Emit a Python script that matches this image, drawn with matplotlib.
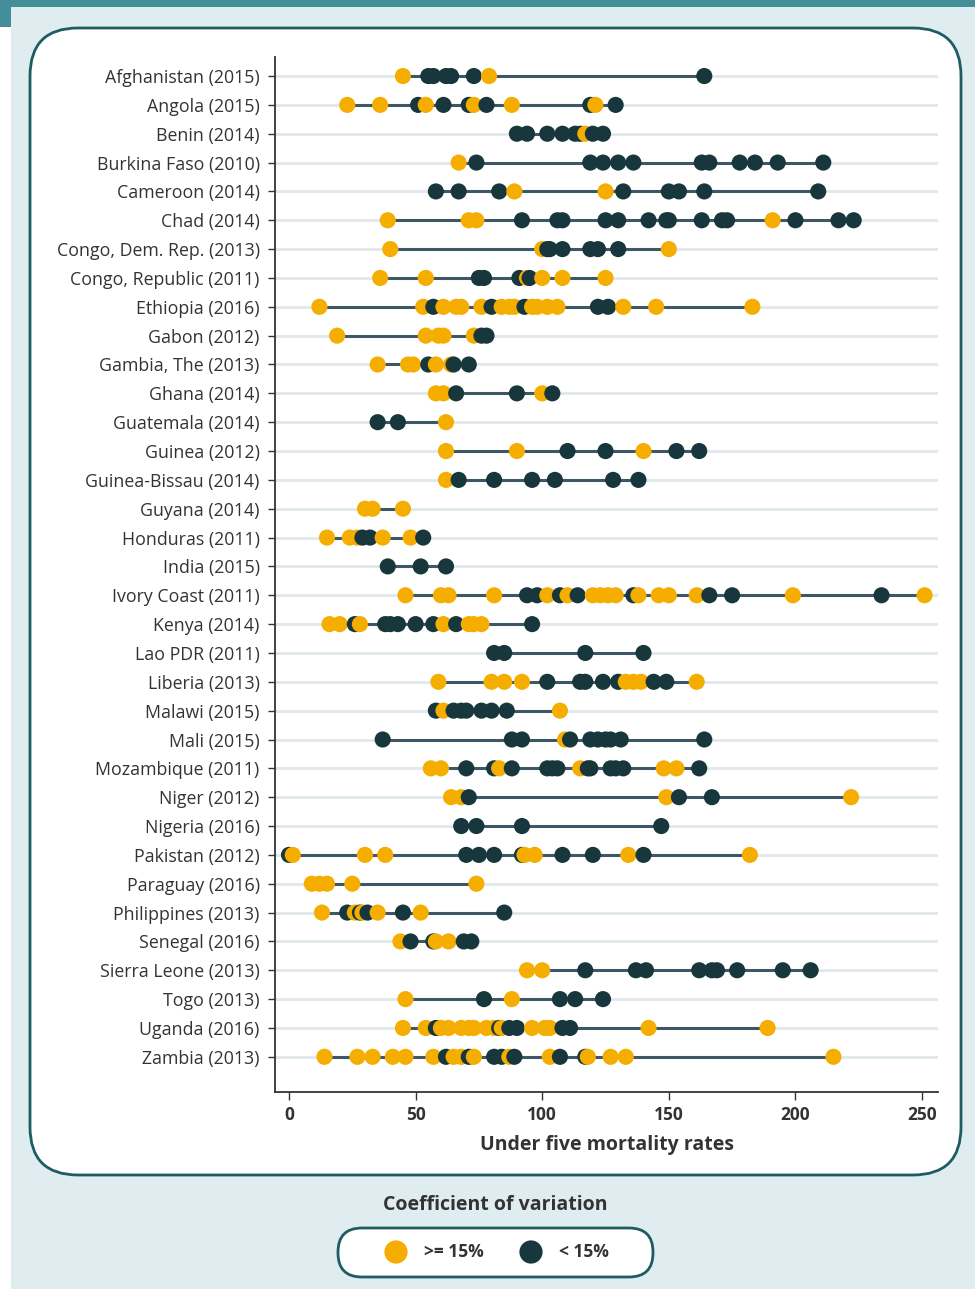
import matplotlib.pyplot as plt
from matplotlib.patches import FancyBboxPatch, Rectangle

# survey labels, top to bottom
COUNTRIES = [
    "Afghanistan (2015)", "Angola (2015)", "Benin (2014)", "Burkina Faso (2010)",
    "Cameroon (2014)", "Chad (2014)", "Congo, Dem. Rep. (2013)", "Congo, Republic (2011)",
    "Ethiopia (2016)", "Gabon (2012)", "Gambia, The (2013)", "Ghana (2014)",
    "Guatemala (2014)", "Guinea (2012)", "Guinea-Bissau (2014)", "Guyana (2014)",
    "Honduras (2011)", "India (2015)", "Ivory Coast (2011)", "Kenya (2014)",
    "Lao PDR (2011)", "Liberia (2013)", "Malawi (2015)", "Mali (2015)",
    "Mozambique (2011)", "Niger (2012)", "Nigeria (2016)", "Pakistan (2012)",
    "Paraguay (2016)", "Philippines (2013)", "Senegal (2016)", "Sierra Leone (2013)",
    "Togo (2013)", "Uganda (2016)", "Zambia (2013)",
]

# estimates with coefficient of variation >= 15%
HIGH_CV = [
    [45, 79],
    [23, 36, 54, 73, 88, 121],
    [117],
    [67],
    [89, 125],
    [39, 71, 74, 191],
    [40, 100, 150],
    [36, 54, 94, 100, 108, 125],
    [12, 53, 61, 66, 68, 76, 84, 87, 89, 96, 98, 102, 106, 132, 145, 183],
    [19, 54, 59, 61, 73],
    [35, 47, 49, 58, 64],
    [58, 61, 100],
    [62],
    [62, 90, 140],
    [62],
    [30, 33, 45],
    [15, 24, 27, 37, 48],
    [],
    [46, 60, 63, 81, 102, 110, 120, 123, 126, 129, 138, 146, 150, 161, 199, 251],
    [16, 20, 28, 61, 71, 73, 76],
    [],
    [59, 80, 85, 92, 133, 136, 139, 161],
    [61, 107],
    [109],
    [56, 60, 83, 115, 148, 153],
    [64, 68, 149, 222],
    [],
    [1.5, 30, 38, 93, 97, 134, 182],
    [9, 12, 15, 25, 74],
    [13, 26, 29, 35, 52],
    [44, 58, 63],
    [94, 100],
    [46, 88],
    [45, 54, 60, 63, 68, 71, 73, 78, 81, 84, 96, 101, 103, 142, 189],
    [14, 27, 33, 41, 46, 57, 65, 68, 73, 87, 103, 118, 127, 133, 215],
]

# estimates with coefficient of variation < 15%
LOW_CV = [
    [55, 57, 62, 64, 73, 164],
    [51, 61, 71, 78, 119, 129],
    [90, 94, 102, 108, 113, 115, 120, 124],
    [74, 119, 124, 130, 136, 163, 166, 178, 184, 193, 211],
    [58, 67, 83, 132, 150, 154, 164, 209],
    [92, 106, 108, 125, 130, 142, 149, 150, 163, 171, 173, 200, 217, 223],
    [102, 103, 108, 119, 122, 130],
    [75, 77, 91, 95],
    [57, 80, 93, 122, 126],
    [76, 78],
    [55, 65, 71],
    [66, 90, 104],
    [35, 43],
    [110, 125, 153, 162],
    [67, 81, 96, 105, 128, 138],
    [],
    [29, 32, 53],
    [39, 52, 62],
    [94, 98, 107, 114, 136, 166, 175, 234],
    [26, 38, 40, 43, 50, 57, 66, 96],
    [81, 85, 117, 140],
    [102, 115, 117, 124, 130, 144, 149],
    [58, 65, 68, 70, 76, 80, 86],
    [37, 88, 92, 111, 119, 122, 125, 127, 131, 164],
    [70, 81, 88, 102, 104, 106, 118, 119, 127, 129, 132, 162],
    [71, 154, 167],
    [68, 74, 92, 147],
    [0, 70, 75, 81, 92, 108, 120, 140],
    [],
    [23, 28, 31, 45, 85],
    [48, 57, 69, 72],
    [117, 137, 141, 162, 167, 169, 177, 195, 206],
    [77, 107, 113, 124],
    [58, 83, 87, 90, 108, 111],
    [62, 71, 81, 84, 89, 107, 117],
]

X_TICKS = [0, 50, 100, 150, 200, 250]

YELLOW = "#F5AD00"
DARK = "#18373C"
RANGE = "#3E5766"
GRID = "#E0E8EC"
TEAL = "#438E99"
LIGHT_BG = "#DFEDF0"
FRAME = "#1F5B63"
TEXT = "#333333"

W, H = 975, 1289
plt.rcParams["font.family"] = ["Open Sans", "DejaVu Sans"]

fig = plt.figure(figsize=(W / 100, H / 100), dpi=100)
fig.patch.set_facecolor("white")

# background layer in pixel coordinates
bg = fig.add_axes([0, 0, 1, 1], zorder=0)
bg.set_xlim(0, W)
bg.set_ylim(H, 0)
bg.axis("off")
bg.add_patch(Rectangle((11, 7), W - 11, H - 7, facecolor=LIGHT_BG, edgecolor="none"))
bg.add_patch(Rectangle((0, 0), W, 7, facecolor=TEAL, edgecolor="none"))
bg.add_patch(Rectangle((0, 0), 11, 27, facecolor=TEAL, edgecolor="none"))
bg.add_patch(FancyBboxPatch((30, 28), 931, 1147, boxstyle="round,pad=0,rounding_size=48",
                            facecolor="white", edgecolor=FRAME, linewidth=2))
bg.add_patch(FancyBboxPatch((338, 1228), 315, 49, boxstyle="round,pad=0,rounding_size=24",
                            facecolor="white", edgecolor=FRAME, linewidth=2))

# legend
bg.text(495, 1205, "Coefficient of variation", ha="center", va="center",
        fontsize=14, fontweight="bold", color=TEXT)
bg.scatter([396], [1252], s=280, color=YELLOW, edgecolors="none")
bg.text(424, 1252, ">= 15%", ha="left", va="center", fontsize=12.5, fontweight="bold", color=TEXT)
bg.scatter([531], [1252], s=280, color=DARK, edgecolors="none")
bg.text(559, 1252, "< 15%", ha="left", va="center", fontsize=12.5, fontweight="bold", color=TEXT)

# main chart
x0, x1, y0, y1 = 275, 938, 57, 1092
ax = fig.add_axes([x0 / W, 1 - y1 / H, (x1 - x0) / W, (y1 - y0) / H], zorder=1)
ax.patch.set_alpha(0)

n = len(COUNTRIES)
xs, ys, cs = [], [], []
for i in range(n):
    vals = [(v, YELLOW) for v in HIGH_CV[i]] + [(v, DARK) for v in LOW_CV[i]]
    vals.sort(key=lambda t: t[0])
    ax.hlines(i, vals[0][0], vals[-1][0], color=RANGE, linewidth=2.2, zorder=2)
    for v, c in vals:
        xs.append(v)
        ys.append(i)
        cs.append(c)
ax.scatter(xs, ys, s=135, c=cs, edgecolors="none", zorder=3)

ax.set_xlim(-5.53, 256.3)
ax.set_ylim(35.22, -0.66)
ax.set_yticks(range(n))
ax.set_yticklabels(COUNTRIES, fontsize=12.8, color=TEXT)
ax.set_xticks(X_TICKS)
ax.set_xticklabels([str(t) for t in X_TICKS], fontsize=12.5, fontweight="bold", color=TEXT)
ax.tick_params(axis="y", length=5, width=1, color=TEXT, pad=6)
ax.tick_params(axis="x", length=6, width=1, color=TEXT, pad=4)
ax.grid(axis="y", color=GRID, linewidth=2, zorder=0)
ax.set_axisbelow(True)
for side in ["top", "right"]:
    ax.spines[side].set_visible(False)
for side in ["left", "bottom"]:
    ax.spines[side].set_color(TEXT)
    ax.spines[side].set_linewidth(1.3)
ax.set_xlabel("Under five mortality rates", fontsize=14, fontweight="bold", color=TEXT, labelpad=8)

fig.savefig("out.png", dpi=100)
